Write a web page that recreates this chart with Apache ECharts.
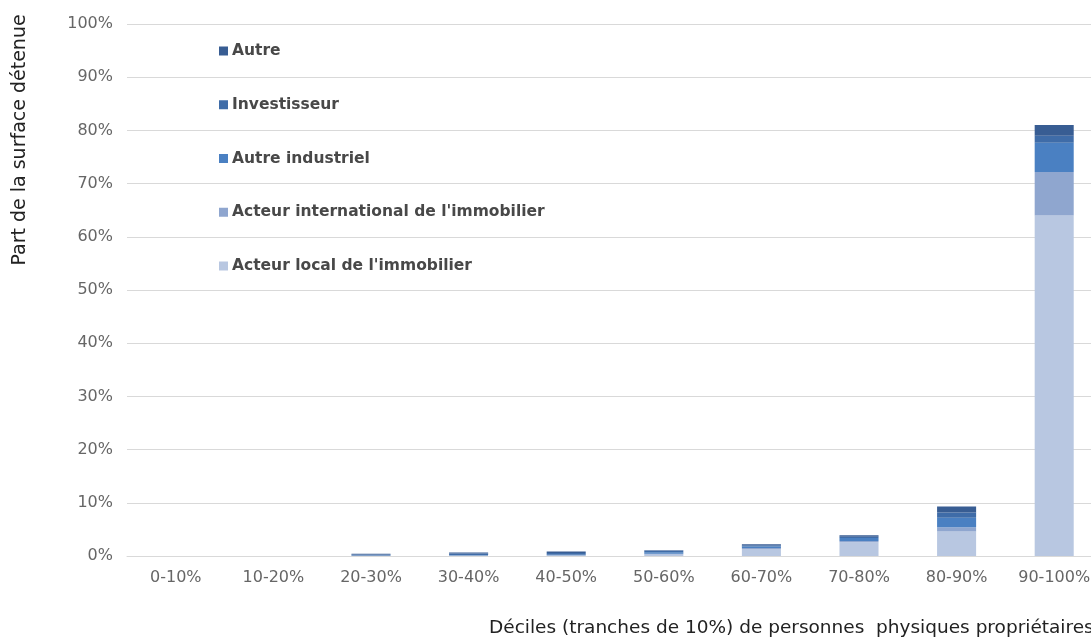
<!DOCTYPE html>
<html>
<head>
<meta charset="utf-8">
<script src="https://cdn.jsdelivr.net/npm/echarts@6/dist/echarts.min.js"></script>
<style>
html,body{margin:0;padding:0;background:#fff;overflow:hidden;width:1091px;height:637px;}
#c{width:1112px;height:637px;}
</style>
</head>
<body>
<div id="c"></div>
<script>
const categories = ['0-10%','10-20%','20-30%','30-40%','40-50%','50-60%','60-70%','70-80%','80-90%','90-100%'];
const yTicks = [0,10,20,30,40,50,60,70,80,90,100];
const acteurLocal = [0, 0, 0.03, 0.05, 0.08, 0.3, 1.3, 2.6, 4.6, 64.0];
const acteurInternational = [0, 0, 0.02, 0.03, 0.05, 0.1, 0.2, 0.2, 0.8, 8.2];
const autreIndustriel = [0, 0, 0.05, 0.07, 0.1, 0.3, 0.3, 0.6, 1.8, 5.5];
const investisseur = [0, 0, 0.2, 0.3, 0.35, 0.3, 0.2, 0.2, 1.0, 1.3];
const autre = [0, 0, 0.1, 0.2, 0.25, 0.1, 0.2, 0.3, 1.1, 2.0];
const seriesNames = ['Acteur local de l\'immobilier','Acteur international de l\'immobilier','Autre industriel','Investisseur','Autre'];
const seriesData = [acteurLocal, acteurInternational, autreIndustriel, investisseur, autre];
const colors = ['#b8c7e1','#8fa6cf','#4a80c2','#3f6ca8','#385d93'];

const chart = echarts.init(document.getElementById('c'));
const font = 'DejaVu Sans';
chart.setOption({
  animation: false,
  grid: {left: 127, top: 24, bottom: 81, right: 9, containLabel: false},
  legend: {
    orient: 'vertical',
    left: 214,
    top: 38,
    itemWidth: 9,
    itemHeight: 9,
    itemGap: 37.75,
    icon: 'rect',
    data: ['Autre','Investisseur','Autre industriel','Acteur international de l\'immobilier','Acteur local de l\'immobilier'],
    textStyle: {fontFamily: font, fontWeight: 'bold', fontSize: 15.5, color: '#484848', padding: [0,0,0,-1]}
  },
  xAxis: {
    type: 'category',
    data: categories,
    axisTick: {show: false},
    axisLine: {lineStyle: {color: '#d9d9d9', width: 1}},
    axisLabel: {fontFamily: font, fontSize: 16, color: '#666', margin: 14}
  },
  yAxis: {
    type: 'value',
    min: 0, max: 100, interval: 10,
    axisLabel: {fontFamily: font, fontSize: 16, color: '#666', margin: 14,
      formatter: v => yTicks.includes(v) ? v + '%' : ''},
    splitLine: {lineStyle: {color: '#d9d9d9', width: 1}}
  },
  graphic: [
    {type: 'text', x: 20, y: 140, rotation: Math.PI/2,
     style: {text: 'Part de la surface détenue', fontFamily: font, fontSize: 19, fill: '#222',
             align: 'center', verticalAlign: 'middle'}},
    {type: 'text', x: 489, y: 628,
     style: {text: 'Déciles (tranches de 10%) de personnes  physiques propriétaires', fontFamily: font, fontSize: 18.5, fill: '#222',
             align: 'left', verticalAlign: 'middle'}}
  ],
  series: seriesData.map((d, i) => ({
    name: seriesNames[i],
    type: 'bar',
    stack: 'total',
    barWidth: '40%',
    data: d,
    itemStyle: {color: colors[i]}
  }))
});
</script>
</body>
</html>
